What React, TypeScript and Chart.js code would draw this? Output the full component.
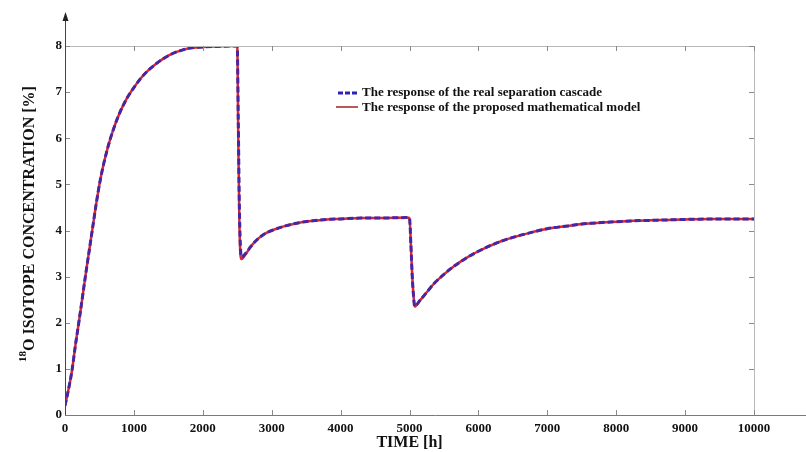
import React, { useEffect, useRef } from "react";
import { Chart, registerables } from "chart.js";

Chart.register(...registerables);

// Time axis (hours) shared by both responses
const TIME_H = [
  0, 50, 100, 150, 200, 250, 300, 350, 400, 450, 500, 550, 600, 650, 700, 750, 800, 850, 900, 950, 1000,
  1100, 1200, 1300, 1400, 1500, 1600, 1700, 1800, 1900, 2000, 2200, 2400, 2500,
  2515, 2530, 2545, 2560, 2620, 2700, 2800, 2900, 3000, 3200, 3400, 3600, 3800, 4000,
  4300, 4600, 4960, 5000, 5020, 5040, 5060, 5075, 5150, 5250, 5350, 5500, 5650, 5820,
  6000, 6300, 6500, 6800, 7000, 7300, 7500, 7750, 8000, 8250, 8500, 8750, 9000, 9400,
  9700, 10000,
];

// Measured response of the real separation cascade [%]
const REAL_CASCADE = [
  0.2, 0.55, 0.95, 1.5, 2.0, 2.52, 3.05, 3.55, 4.05, 4.55, 5.0, 5.37, 5.68, 5.95, 6.18, 6.39, 6.57, 6.73, 6.87, 6.99, 7.1,
  7.3, 7.46, 7.59, 7.7, 7.79, 7.86, 7.91, 7.95, 7.97, 7.98, 7.99, 8.0, 8.0,
  6.4, 4.6, 3.7, 3.43, 3.5, 3.66, 3.82, 3.93, 4.0, 4.1, 4.17, 4.21, 4.24, 4.25,
  4.27, 4.27, 4.28, 4.27, 3.7, 3.0, 2.55, 2.36, 2.48, 2.66, 2.84, 3.05, 3.23, 3.40,
  3.55, 3.75, 3.85, 3.97, 4.04, 4.1, 4.14, 4.17, 4.19, 4.21, 4.22, 4.23, 4.24, 4.25,
  4.25, 4.25,
];

// Response of the proposed mathematical model [%]
const MODEL_RESPONSE = [
  0.2, 0.55, 0.95, 1.5, 2.0, 2.52, 3.05, 3.55, 4.05, 4.55, 5.0, 5.37, 5.68, 5.95, 6.18, 6.39, 6.57, 6.73, 6.87, 6.99, 7.1,
  7.3, 7.46, 7.59, 7.7, 7.79, 7.86, 7.91, 7.95, 7.97, 7.98, 7.99, 8.0, 8.0,
  6.0, 4.3, 3.5, 3.38, 3.48, 3.66, 3.82, 3.93, 4.0, 4.1, 4.17, 4.21, 4.24, 4.25,
  4.27, 4.27, 4.28, 4.27, 3.7, 3.0, 2.55, 2.35, 2.48, 2.66, 2.84, 3.05, 3.23, 3.40,
  3.55, 3.75, 3.85, 3.97, 4.04, 4.1, 4.14, 4.17, 4.19, 4.21, 4.22, 4.23, 4.24, 4.25,
  4.25, 4.25,
];

const X_TICKS = [0, 1000, 2000, 3000, 4000, 5000, 6000, 7000, 8000, 9000, 10000];
const Y_TICKS = [0, 1, 2, 3, 4, 5, 6, 7, 8];

const LEGEND_LABELS = [
  "The response of the real separation cascade",
  "The response of the proposed mathematical model",
];

const SERIF = '"Liberation Serif", "Times New Roman", serif';
const BLUE = "#4426a6";
const RED = "#d8282e";

const framePlugin = {
  id: "frame",
  afterDraw(chart: any) {
    const { ctx, chartArea: a, scales } = chart;
    const x = scales.x;
    const y = scales.y;
    ctx.save();

    // light box on top and right
    ctx.strokeStyle = "#b8b8b8";
    ctx.lineWidth = 1;
    ctx.beginPath();
    ctx.moveTo(a.left, a.top + 0.5);
    ctx.lineTo(a.right + 0.5, a.top + 0.5);
    ctx.lineTo(a.right + 0.5, a.bottom);
    ctx.stroke();

    // inward ticks
    ctx.strokeStyle = "#8a8a8a";
    ctx.beginPath();
    X_TICKS.forEach((v) => {
      const px = Math.round(x.getPixelForValue(v)) + 0.5;
      ctx.moveTo(px, a.bottom);
      ctx.lineTo(px, a.bottom - 5);
      ctx.moveTo(px, a.top);
      ctx.lineTo(px, a.top + 5);
    });
    Y_TICKS.forEach((v) => {
      const py = Math.round(y.getPixelForValue(v)) + 0.5;
      ctx.moveTo(a.left, py);
      ctx.lineTo(a.left + 5, py);
      ctx.moveTo(a.right, py);
      ctx.lineTo(a.right - 5, py);
    });
    ctx.stroke();

    // x axis running to the edge
    ctx.strokeStyle = "#7a7a7a";
    ctx.beginPath();
    ctx.moveTo(a.left, a.bottom + 0.5);
    ctx.lineTo(chart.width, a.bottom + 0.5);
    ctx.stroke();

    // y axis with arrow head
    const ax = a.left + 0.5;
    ctx.strokeStyle = "#444";
    ctx.beginPath();
    ctx.moveTo(ax, a.bottom);
    ctx.lineTo(ax, 18);
    ctx.stroke();
    ctx.fillStyle = "#222";
    ctx.beginPath();
    ctx.moveTo(ax, 12);
    ctx.lineTo(ax - 3, 21);
    ctx.lineTo(ax + 3, 21);
    ctx.closePath();
    ctx.fill();

    // axis titles
    ctx.fillStyle = "#111";
    ctx.textBaseline = "middle";
    ctx.textAlign = "center";
    ctx.font = `bold 16px ${SERIF}`;
    ctx.fillText("TIME [h]", (a.left + a.right) / 2, 443);

    ctx.save();
    ctx.translate(30, 224);
    ctx.rotate(-Math.PI / 2);
    const mainText = "O ISOTOPE CONCENTRATION [%]";
    ctx.font = `bold 16px ${SERIF}`;
    const mainW = ctx.measureText(mainText).width;
    ctx.font = `bold 11px ${SERIF}`;
    const supW = ctx.measureText("18").width;
    const startX = -(mainW + supW) / 2;
    ctx.textAlign = "left";
    ctx.fillText("18", startX, -7);
    ctx.font = `bold 16px ${SERIF}`;
    ctx.fillText(mainText, startX + supW, 0);
    ctx.restore();

    // legend
    const lx = 338;
    ctx.lineWidth = 3;
    ctx.strokeStyle = "#2a22b8";
    ctx.setLineDash([5, 2]);
    ctx.beginPath();
    ctx.moveTo(lx, 93);
    ctx.lineTo(lx + 20, 93);
    ctx.stroke();
    ctx.setLineDash([]);
    ctx.lineWidth = 2;
    ctx.strokeStyle = "#b85a5a";
    ctx.beginPath();
    ctx.moveTo(lx - 2, 107);
    ctx.lineTo(lx + 20, 107);
    ctx.stroke();
    ctx.font = `bold 13px ${SERIF}`;
    ctx.textAlign = "left";
    ctx.fillStyle = "#111";
    ctx.fillText(LEGEND_LABELS[0], lx + 24, 93);
    ctx.fillText(LEGEND_LABELS[1], lx + 24, 108);

    ctx.restore();
  },
};

export default function App() {
  const canvasRef = useRef<HTMLCanvasElement | null>(null);

  useEffect(() => {
    if (!canvasRef.current) return;
    const chart = new Chart(canvasRef.current, {
      type: "line",
      data: {
        datasets: [
          {
            label: LEGEND_LABELS[0],
            data: TIME_H.map((t, i) => ({ x: t, y: REAL_CASCADE[i] })),
            borderColor: BLUE,
            borderWidth: 3,
            borderDash: [6, 3],
            pointRadius: 0,
            cubicInterpolationMode: "monotone",
            order: 0,
          },
          {
            label: LEGEND_LABELS[1],
            data: TIME_H.map((t, i) => ({ x: t, y: MODEL_RESPONSE[i] })),
            borderColor: RED,
            borderWidth: 2.5,
            pointRadius: 0,
            cubicInterpolationMode: "monotone",
            order: 1,
          },
        ],
      },
      options: {
        animation: false,
        responsive: false,
        devicePixelRatio: 1,
        layout: { padding: { top: 46, right: 52, left: 0, bottom: 0 } },
        plugins: { legend: { display: false }, tooltip: { enabled: false } },
        scales: {
          x: {
            type: "linear",
            min: 0,
            max: 10000,
            afterFit: (s: any) => {
              s.height = 37;
            },
            afterBuildTicks: (s: any) => {
              s.ticks = X_TICKS.map((v) => ({ value: v }));
            },
            grid: { display: false, drawTicks: false, tickLength: 0 },
            border: { display: false },
            ticks: {
              padding: 6,
              maxRotation: 0,
              autoSkip: false,
              color: "#111",
              font: { family: SERIF, size: 13, weight: "bold" },
              callback: (v: any) => String(v),
            },
          },
          y: {
            type: "linear",
            min: 0,
            max: 8,
            afterFit: (s: any) => {
              s.width = 65;
            },
            afterBuildTicks: (s: any) => {
              s.ticks = Y_TICKS.map((v) => ({ value: v }));
            },
            grid: { display: false, drawTicks: false, tickLength: 0 },
            border: { display: false },
            ticks: {
              padding: 3,
              autoSkip: false,
              color: "#111",
              font: { family: SERIF, size: 13, weight: "bold" },
              callback: (v: any) => String(v),
            },
          },
        },
      },
      plugins: [framePlugin],
    });
    return () => chart.destroy();
  }, []);

  return (
    <div style={{ position: "fixed", left: 0, top: 0, width: 806, height: 452, background: "#fff" }}>
      <canvas ref={canvasRef} width={806} height={452} style={{ width: 806, height: 452 }} />
    </div>
  );
}
